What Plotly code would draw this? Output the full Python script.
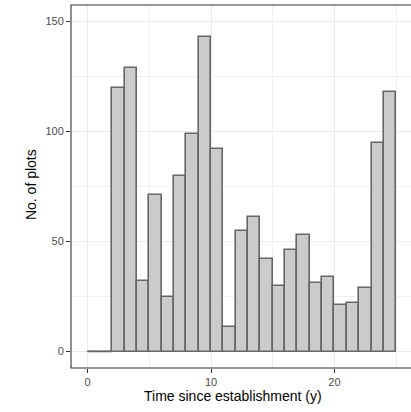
import plotly.graph_objects as go

# Histogram data: counts per 1-year bin, bins [0,1), [1,2), ..., [24,25]
bin_edges = list(range(0, 26))
counts = [0, 0, 120, 129, 32, 71, 25, 80, 99, 143, 92, 11, 55, 61, 42, 30,
          46, 53, 31, 34, 21, 22, 29, 95, 118]
x_ticks = [0, 10, 20]
y_ticks = [0, 50, 100, 150]
x_title = "Time since establishment (y)"
y_title = "No. of plots"

FONT = "Liberation Sans, Arial, Helvetica, sans-serif"
FILL = "#CCCBCC"
EDGE = "#666666"

centers = [(bin_edges[i] + bin_edges[i + 1]) / 2 for i in range(len(counts))]

fig = go.Figure()
fig.add_trace(go.Bar(
    x=centers, y=counts, width=[1] * len(counts),
    marker=dict(color=FILL, line=dict(color=EDGE, width=1.6)),
    hoverinfo="skip", showlegend=False,
))

# zero-count bins are drawn as flat outlines at y = 0
zx, zy = [], []
for i, c in enumerate(counts):
    if c == 0:
        zx += [bin_edges[i], bin_edges[i + 1], None]
        zy += [0, 0, None]
fig.add_trace(go.Scatter(x=zx, y=zy, mode="lines",
                         line=dict(color=EDGE, width=1.6),
                         hoverinfo="skip", showlegend=False))

axis_common = dict(
    showgrid=True, gridcolor="#EBEBEB", gridwidth=1.3,
    zeroline=False, showline=False,
    ticks="outside", ticklen=4, tickwidth=1, tickcolor="#333333",
    tickfont=dict(family=FONT, size=11, color="#4D4D4D"),
)

fig.update_xaxes(
    range=[-1.35, 26.2], tickmode="array", tickvals=x_ticks,
    ticktext=[str(v) for v in x_ticks],
    minor=dict(dtick=5, tick0=0, showgrid=True, gridcolor="#F0F0F0",
               gridwidth=0.8, ticks=""),
    **axis_common,
)
fig.update_yaxes(
    range=[-7.5, 157.5], tickmode="array", tickvals=y_ticks,
    ticktext=[str(v) for v in y_ticks],
    minor=dict(dtick=25, tick0=0, showgrid=True, gridcolor="#F0F0F0",
               gridwidth=0.8, ticks=""),
    **axis_common,
)

# panel border (right side lies beyond the visible area)
fig.add_shape(type="rect", xref="paper", yref="paper", x0=0, x1=1.2, y0=0, y1=1,
              line=dict(color="#333333", width=1.1), layer="above")

fig.add_annotation(text=x_title, xref="paper", yref="paper", x=0.476, y=-0.078,
                   xanchor="center", yanchor="middle", showarrow=False,
                   font=dict(family=FONT, size=14, color="#000000"))
fig.add_annotation(text=y_title, xref="paper", yref="paper", x=-0.1176, y=0.504,
                   xanchor="center", yanchor="middle", textangle=-90, showarrow=False,
                   font=dict(family=FONT, size=14, color="#000000"))

fig.update_layout(
    width=411, height=412,
    margin=dict(l=71, r=0, t=5, b=44, pad=0),
    paper_bgcolor="white", plot_bgcolor="white",
    bargap=0, barmode="overlay",
)

fig.write_html("out.html", config={"displayModeBar": False})

# remove the browser's default page margin so the figure sits at (0, 0)
with open("out.html", "r", encoding="utf-8") as f:
    html = f.read()
html = html.replace("<head>", "<head><style>html,body{margin:0;padding:0;overflow:hidden;}</style>", 1)
with open("out.html", "w", encoding="utf-8") as f:
    f.write(html)
